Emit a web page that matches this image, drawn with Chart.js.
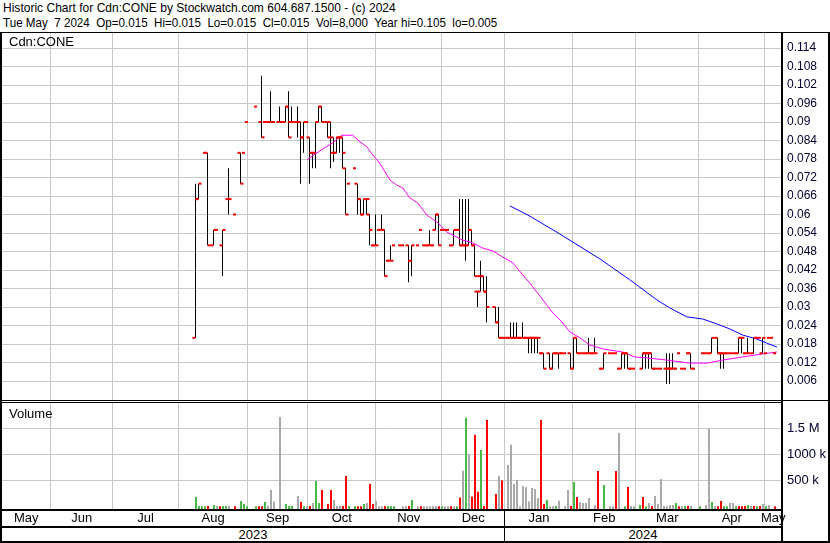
<!DOCTYPE html>
<html>
<head>
<meta charset="utf-8">
<title>Historic Chart for Cdn:CONE</title>
<script src="https://cdn.jsdelivr.net/npm/chart.js@4.4.1/dist/chart.umd.min.js"></script>
<style>
  body { margin: 0; background: #fff; font-family: "Liberation Sans", Arial, sans-serif; color: #000; }
  #page { position: relative; width: 830px; height: 543px; overflow: hidden; }
  .head { position: absolute; left: 3px; font-size: 13px; line-height: 15px; white-space: pre; transform-origin: 0 0; }
  .txt { position: absolute; font-size: 13px; line-height: 15px; white-space: pre; z-index: 3; }
  .rule { position: absolute; background: #000; z-index: 5; }
  canvas { position: absolute; left: 0; }
</style>
</head>
<body>
<div id="page">
  <div class="head" style="top:0;transform:scaleX(0.926)">Historic Chart for Cdn:CONE by Stockwatch.com 604.687.1500 - (c) 2024</div>
  <div class="head" style="top:15px;transform:scaleX(0.894)">Tue May  7 2024  Op=0.015  Hi=0.015  Lo=0.015  Cl=0.015  Vol=8,000  Year hi=0.105  lo=0.005</div>

  <canvas id="price" width="830" height="367" style="top:33px"></canvas>
  <canvas id="volume" width="830" height="123" style="top:403px"></canvas>

  <div class="txt" style="left:9px;top:34px">Cdn:CONE</div>
  <div class="txt" style="left:9px;top:406px">Volume</div>
  <div class="txt" style="left:2px;width:502px;top:527px;text-align:center">2023</div>
  <div class="txt" style="left:505px;width:276px;top:527px;text-align:center">2024</div>

  <div class="rule" style="left:0;top:32px;width:830px;height:1px"></div>
  <div class="rule" style="left:0;top:32px;width:2px;height:511px"></div>
  <div class="rule" style="left:781px;top:32px;width:2px;height:511px"></div>
  <div class="rule" style="left:828px;top:32px;width:2px;height:511px"></div>
  <div class="rule" style="left:0;top:400px;width:830px;height:1px"></div>
  <div class="rule" style="left:0;top:402px;width:781px;height:1px"></div>
  <div class="rule" style="left:0;top:509px;width:781px;height:2px"></div>
  <div class="rule" style="left:0;top:526px;width:781px;height:2px"></div>
  <div class="rule" style="left:0;top:541px;width:830px;height:2px"></div>
  <div class="rule" style="left:504px;top:509px;width:1px;height:33px"></div>
</div>

<script>
// x values are trading-day slots (one slot per day on the chart)
const monthStarts = [16.6, 37.2, 59.2, 82.2, 102.2, 124.9, 146.9, 167.9, 190.6, 211.6, 232.6, 254.6];
const monthCenters = [8.4, 26.9, 48.2, 70.7, 92.2, 113.6, 135.9, 157.4, 179.3, 201.1, 222.1, 243.6, 257.4];
const monthLabels = ['May', 'Jun', 'Jul', 'Aug', 'Sep', 'Oct', 'Nov', 'Dec', 'Jan', 'Feb', 'Mar', 'Apr', 'May'];

const priceTicks = [0.006, 0.012, 0.018, 0.024, 0.03, 0.036, 0.042, 0.048, 0.054, 0.06,
                    0.066, 0.072, 0.078, 0.084, 0.09, 0.096, 0.102, 0.108, 0.114];
const priceTickLabels = ['0.006', '0.012', '0.018', '0.024', '0.03', '0.036', '0.042', '0.048', '0.054', '0.06',
                         '0.066', '0.072', '0.078', '0.084', '0.09', '0.096', '0.102', '0.108', '0.114'];
const volTicks = [500000, 1000000, 1500000];
const volTickLabels = ['500 k', '1000 k', '1.5 M'];

// day, open, high, low, close
const ohlc = [
  [65, .02, .07, .02, .065], [66, .065, .07, .065, .07], [68, .08, .08, .08, .08], [69, .08, .08, .05, .05],
  [71, .05, .055, .05, .055], [72, .055, .055, .055, .055], [74, .05, .055, .04, .055], [76, .065, .075, .06, .065],
  [78, .06, .06, .06, .06], [80, .08, .08, .07, .07], [81, .08, .08, .08, .08], [82, .09, .09, .09, .09],
  [85, .095, .095, .095, .095], [87, .09, .105, .085, .085], [88, .09, .09, .09, .09], [89, .09, .09, .09, .09],
  [90, .09, .1, .09, .09], [91, .09, .09, .09, .09], [93, .09, .095, .09, .09], [95, .09, .095, .09, .095],
  [96, .095, .1, .085, .085], [97, .09, .095, .09, .09], [99, .09, .095, .085, .09], [100, .09, .09, .07, .085],
  [101, .085, .09, .08, .09], [102, .09, .09, .09, .09], [103, .085, .085, .07, .08], [104, .08, .08, .075, .08],
  [105, .08, .09, .075, .09], [106, .09, .095, .09, .095], [107, .095, .095, .09, .09], [109, .09, .09, .085, .085],
  [110, .09, .09, .075, .08], [111, .085, .085, .077, .08], [112, .08, .085, .08, .085], [113, .085, .085, .08, .085],
  [114, .085, .085, .075, .08], [115, .075, .075, .06, .06], [116, .07, .07, .07, .07], [118, .075, .075, .075, .075],
  [119, .07, .07, .06, .065], [120, .065, .065, .06, .06], [121, .06, .065, .06, .065], [122, .065, .065, .06, .065],
  [123, .06, .06, .05, .055], [124, .05, .05, .05, .05], [125, .05, .06, .05, .05], [126, .055, .055, .055, .055],
  [127, .055, .06, .055, .055], [128, .055, .055, .04, .04], [129, .045, .045, .045, .045], [130, .045, .05, .045, .045],
  [131, .05, .05, .05, .05], [133, .05, .05, .05, .05], [134, .05, .05, .05, .05], [136, .05, .05, .038, .045],
  [137, .045, .05, .04, .05], [139, .05, .05, .05, .05], [140, .055, .055, .055, .055], [141, .05, .05, .05, .05],
  [142, .05, .05, .05, .05], [143, .05, .055, .05, .05], [144, .05, .05, .05, .05], [145, .055, .06, .055, .06],
  [146, .06, .06, .05, .05], [147, .055, .055, .055, .055], [148, .055, .055, .055, .055], [149, .055, .055, .055, .055],
  [150, .05, .05, .05, .05], [151, .05, .055, .05, .055], [152, .055, .055, .055, .055], [153, .055, .065, .05, .05],
  [154, .05, .065, .05, .05], [155, .05, .065, .045, .05], [156, .05, .065, .05, .055], [157, .055, .055, .05, .05],
  [158, .05, .05, .04, .04], [159, .035, .035, .03, .035], [160, .04, .045, .035, .04], [161, .04, .04, .035, .035],
  [162, .035, .04, .025, .03], [165, .03, .03, .025, .025], [166, .025, .03, .02, .02], [167, .02, .02, .02, .02],
  [168, .02, .02, .02, .02], [169, .02, .02, .02, .02], [170, .02, .025, .02, .02], [171, .02, .025, .02, .02],
  [172, .02, .025, .02, .02], [173, .02, .02, .02, .02], [174, .02, .025, .02, .02], [175, .02, .02, .02, .02],
  [176, .02, .02, .015, .02], [177, .02, .02, .015, .02], [178, .02, .02, .015, .02], [179, .02, .02, .015, .02],
  [180, .015, .015, .015, .015], [181, .015, .015, .01, .01], [183, .015, .015, .01, .01], [184, .01, .015, .01, .015],
  [185, .015, .015, .015, .015], [186, .015, .015, .01, .015], [187, .015, .015, .015, .015], [188, .015, .015, .015, .015],
  [190, .015, .015, .01, .01], [191, .01, .02, .01, .02], [192, .02, .02, .015, .015], [193, .015, .015, .015, .015],
  [194, .015, .015, .015, .015], [195, .015, .015, .015, .015], [196, .015, .02, .015, .015], [197, .015, .015, .015, .015],
  [198, .015, .02, .015, .015], [200, .01, .01, .01, .01], [201, .01, .015, .01, .015], [203, .015, .015, .015, .015],
  [204, .015, .015, .015, .015], [205, .015, .015, .015, .015], [206, .01, .01, .01, .01], [207, .01, .015, .01, .015],
  [208, .015, .015, .01, .015], [209, .015, .015, .01, .01], [210, .01, .01, .01, .01], [211, .01, .01, .01, .01],
  [214, .01, .015, .01, .015], [215, .015, .015, .01, .015], [216, .015, .015, .01, .015], [217, .015, .015, .01, .01],
  [218, .01, .01, .01, .01], [219, .01, .01, .01, .01], [220, .01, .01, .01, .01], [222, .01, .015, .005, .01],
  [223, .01, .015, .005, .01], [224, .01, .015, .01, .01], [225, .01, .01, .01, .01], [226, .015, .015, .015, .015],
  [227, .01, .01, .01, .01], [228, .01, .01, .01, .01], [229, .015, .015, .015, .015], [230, .015, .015, .01, .01],
  [231, .01, .01, .01, .01], [234, .015, .015, .015, .015], [235, .015, .015, .015, .015], [236, .015, .015, .015, .015],
  [237, .015, .02, .015, .02], [239, .02, .02, .015, .015], [240, .015, .015, .01, .015], [241, .015, .015, .01, .015],
  [242, .015, .015, .015, .015], [243, .015, .015, .015, .015], [244, .015, .015, .015, .015], [245, .015, .015, .015, .015],
  [246, .015, .02, .015, .02], [247, .02, .02, .015, .02], [248, .015, .015, .015, .015], [249, .015, .02, .015, .015],
  [251, .015, .02, .015, .02], [252, .02, .02, .02, .02], [253, .02, .02, .02, .02], [254, .015, .02, .015, .02],
  [255, .015, .015, .015, .015], [256, .02, .02, .02, .02], [257, .02, .02, .02, .02], [258, .015, .015, .015, .015]
];

// moving averages
const maShortDay = [102.2, 104.1, 107.4, 110.8, 113.1, 113.8, 117.4, 119.8, 122.1, 124.1, 126.4, 129.8, 132, 134.1,
  136.4, 139.1, 142.1, 145.4, 148.8, 154.1, 157.4, 160.8, 164.1, 167.4, 170.8, 174.1, 176.4, 180.8, 184.1, 187.1,
  189.8, 193.1, 196.4, 200.8, 207.4, 211.4, 215.4, 222.1, 229.8, 235.4, 240.8, 247.4, 254.1, 258.8];
const maShortPrice = [0.0777, 0.0791, 0.0812, 0.0833, 0.0852, 0.0857, 0.0857, 0.0836, 0.082, 0.0793, 0.0767, 0.0712,
  0.0696, 0.0686, 0.0654, 0.0637, 0.0598, 0.0576, 0.0543, 0.0517, 0.0508, 0.0491, 0.0482, 0.0462, 0.0443, 0.0404,
  0.0378, 0.0323, 0.0281, 0.0252, 0.0219, 0.02, 0.0177, 0.0164, 0.0154, 0.0138, 0.0135, 0.0128, 0.0118, 0.0118,
  0.0128, 0.0138, 0.0148, 0.0154];
const maLongDay = [169.8, 176.4, 186.4, 199.8, 209.8, 218.8, 223.1, 228.8, 234.1, 238.8, 243.1, 247.4, 252.1, 255.4, 258.8];
const maLongPrice = [0.0628, 0.0595, 0.0537, 0.0456, 0.0388, 0.0323, 0.0297, 0.0268, 0.0261, 0.0245, 0.0229, 0.0209,
  0.0196, 0.0183, 0.017];

// volume: day, shares, g = up, r = down, n = unchanged
const volDay = [65, 66, 67, 68, 69, 71, 72, 73, 74, 75, 76, 78, 80, 81, 82, 85, 86, 87, 88, 89, 90, 91, 93, 95, 96, 97,
  99, 100, 101, 102, 103, 104, 105, 106, 107, 109, 110, 111, 112, 113, 114, 115, 116, 118, 119, 120, 121, 122, 123,
  124, 125, 126, 127, 128, 129, 130, 131, 134, 135, 136, 137, 139, 140, 141, 142, 143, 144, 145, 146, 147, 148, 149,
  150, 151, 152, 153, 154, 155, 156, 157, 158, 159, 160, 161, 162, 165, 166, 167, 169, 170, 171, 172, 173, 174, 175,
  176, 177, 178, 179, 180, 181, 182, 183, 184, 185, 186, 188, 189, 190, 191, 192, 193, 194, 195, 196, 198, 199, 201,
  203, 204, 205, 206, 208, 209, 210, 211, 213, 214, 215, 216, 217, 218, 219, 220, 221, 222, 223, 224, 225, 226, 227,
  228, 229, 230, 233, 235, 236, 237, 238, 239, 240, 241, 242, 243, 244, 245, 246, 247, 248, 249, 250, 251, 252, 253,
  254, 255, 256, 258];
const volShares = [179000, 5000, 3000, 3000, 6000, 25000, 6000, 3000, 5000, 5000, 5000, 3000, 100000, 45000, 2000,
  2000, 2000, 2000, 83000, 6000, 314000, 90000, 1718000, 45000, 5000, 5000, 200000, 83000, 6000, 3000, 6000, 64000,
  487000, 64000, 314000, 45000, 314000, 122000, 5000, 5000, 6000, 583000, 5000, 2000, 2000, 2000, 45000, 64000,
  430000, 45000, 100000, 2000, 2000, 6000, 2000, 2000, 2000, 2000, 2000, 6000, 122000, 2000, 3000, 3000, 3000, 3000,
  3000, 3000, 3000, 3000, 3000, 3000, 3000, 3000, 3000, 167000, 686000, 1705000, 994000, 186000, 1378000, 282000,
  1083000, 6000, 1660000, 237000, 583000, 494000, 795000, 1186000, 430000, 506000, 2000, 391000, 365000, 90000,
  353000, 333000, 160000, 1660000, 45000, 122000, 2000, 3000, 5000, 109000, 2000, 314000, 5000, 468000, 179000,
  83000, 64000, 64000, 160000, 25000, 680000, 410000, 2000, 2000, 680000, 1410000, 2000, 372000, 5000, 2000, 25000,
  179000, 2000, 64000, 6000, 200000, 45000, 526000, 5000, 2000, 25000, 25000, 64000, 2000, 2000, 5000, 6000, 5000,
  2000, 25000, 1487000, 83000, 2000, 2000, 100000, 2000, 2000, 64000, 64000, 2000, 6000, 2000, 5000, 25000, 5000,
  5000, 2000, 6000, 45000, 2000, 25000, 2000];
const volDir = ['g', 'g', 'g', 'g', 'r', 'g', 'n', 'r', 'g', 'g', 'n', 'r', 'g', 'g', 'g', 'g', 'r', 'r', 'g', 'n',
  'n', 'n', 'n', 'g', 'g', 'g', 'n', 'r', 'g', 'n', 'r', 'n', 'g', 'g', 'r', 'r', 'r', 'n', 'n', 'n', 'r', 'r', 'g',
  'g', 'r', 'r', 'g', 'n', 'r', 'r', 'n', 'n', 'n', 'r', 'g', 'g', 'g', 'n', 'n', 'r', 'g', 'n', 'r', 'n', 'n', 'n',
  'n', 'n', 'r', 'g', 'n', 'n', 'r', 'n', 'g', 'r', 'n', 'g', 'n', 'r', 'r', 'r', 'g', 'r', 'r', 'r', 'n', 'r', 'n',
  'n', 'n', 'n', 'n', 'n', 'n', 'n', 'n', 'n', 'n', 'r', 'r', 'g', 'n', 'n', 'g', 'n', 'n', 'n', 'r', 'g', 'r', 'n',
  'n', 'n', 'n', 'n', 'r', 'g', 'n', 'n', 'r', 'n', 'g', 'r', 'n', 'n', 'g', 'r', 'g', 'n', 'r', 'n', 'n', 'n', 'n',
  'n', 'n', 'n', 'g', 'r', 'n', 'g', 'r', 'n', 'g', 'n', 'n', 'g', 'n', 'r', 'r', 'g', 'g', 'n', 'n', 'g', 'r', 'r',
  'r', 'g', 'n', 'r', 'g', 'r', 'n', 'g', 'n', 'r'];

// scale ranges (one slot = 3px; price panel 367px, volume panel 106px)
const SLOTS = 779 / 3;
const PRICE_MIN = -0.00016, PRICE_MAX = 0.118865;
const VOL_MIN = -51900, VOL_MAX = 1986500;
const GRID = '#c8c8c8';
const VOL_COLORS = { g: '#46b946', r: '#ff0000', n: '#a9a9a9' };

Chart.defaults.font.family = '"Liberation Sans", Arial, sans-serif';
Chart.defaults.font.size = 13;
Chart.defaults.color = '#000';
Chart.defaults.animation = false;

// price marks
const swings = ohlc.filter(b => b[2] > b[3]);
const flats = ohlc.filter(b => b[2] === b[3]);
const rangeBars = swings.map(b => ({ x: b[0], y: [b[3], b[2]] }));
const openPts = swings.map(b => ({ x: b[0] - 0.5, y: b[1] }));
const closePts = swings.map(b => ({ x: b[0] + 0.5, y: b[4] }));
const flatPts = flats.map(b => ({ x: b[0], y: b[4] }));
const maShort = maShortDay.map((d, i) => ({ x: d, y: maShortPrice[i] }));
const maLong = maLongDay.map((d, i) => ({ x: d, y: maLongPrice[i] }));

function tickSet(style) {
  return Object.assign({
    type: 'line', showLine: false, pointStyle: 'line', pointRadius: 1.5,
    pointBorderWidth: 2, pointBorderColor: '#ff0000', pointBackgroundColor: '#ff0000',
    pointHoverRadius: 0, order: 0
  }, style);
}

// keep the plot area flush with the canvas edges (no label overhang padding)
function noPad(s) {
  s.paddingTop = 0; s.paddingBottom = 0; s.paddingLeft = 0; s.paddingRight = 0;
}

const noUi = { legend: { display: false }, tooltip: { enabled: false } };

new Chart(document.getElementById('price'), {
  type: 'bar',
  data: {
    datasets: [
      { type: 'line', data: maShort, borderColor: '#ff00ff', borderWidth: 1, pointRadius: 0, tension: 0, order: 1 },
      { type: 'line', data: maLong, borderColor: '#0000ff', borderWidth: 1, pointRadius: 0, tension: 0, order: 1 },
      tickSet({ data: openPts }),
      tickSet({ data: closePts }),
      tickSet({ data: flatPts }),
      { type: 'bar', data: rangeBars, backgroundColor: '#000', barThickness: 1, inflateAmount: 0, order: 2 }
    ]
  },
  options: {
    responsive: false,
    events: [],
    layout: { padding: { left: 2 }, autoPadding: false },
    plugins: noUi,
    scales: {
      x: {
        type: 'linear', min: 0.5, max: 0.5 + SLOTS, offset: false,
        afterBuildTicks: s => { s.ticks = monthStarts.map(v => ({ value: v })); },
        ticks: { display: false, autoSkip: false },
        grid: { color: GRID, drawTicks: false, offset: false },
        border: { display: false },
        afterFit: s => { s.height = 0; noPad(s); }
      },
      y: {
        position: 'right', min: PRICE_MIN, max: PRICE_MAX,
        afterBuildTicks: s => { s.ticks = priceTicks.map(v => ({ value: v })); },
        ticks: { autoSkip: false, padding: 6, color: '#000033', font: { size: 12 },
                 callback: (v, i) => priceTickLabels[i] },
        grid: { color: GRID, drawTicks: false },
        border: { display: false },
        afterFit: s => { s.width = 49; noPad(s); }
      }
    }
  }
});

// volume x axis carries both the month grid lines and the month names
const volXTicks = monthStarts.map(v => ({ value: v, name: '' }))
  .concat(monthCenters.map((v, i) => ({ value: v, name: monthLabels[i] })))
  .sort((a, b) => a.value - b.value);

new Chart(document.getElementById('volume'), {
  type: 'bar',
  data: {
    datasets: [{
      data: volDay.map((d, i) => ({ x: d, y: volShares[i] })),
      backgroundColor: volDir.map(k => VOL_COLORS[k]),
      barThickness: 2, inflateAmount: 0, base: VOL_MIN
    }]
  },
  options: {
    responsive: false,
    events: [],
    layout: { padding: { left: 2 }, autoPadding: false },
    plugins: noUi,
    scales: {
      x: {
        type: 'linear', min: 1 / 3, max: 1 / 3 + SLOTS, offset: false,
        afterBuildTicks: s => { s.ticks = volXTicks.map(t => ({ value: t.value, name: t.name })); },
        ticks: { autoSkip: false, maxRotation: 0, padding: 2, color: '#000',
                 callback: (v, i, ticks) => ticks[i].name },
        grid: { color: c => (c.tick && c.tick.name) ? 'rgba(0,0,0,0)' : GRID, drawTicks: false, offset: false },
        border: { display: false },
        afterFit: s => { s.height = 17; noPad(s); }
      },
      y: {
        position: 'right', min: VOL_MIN, max: VOL_MAX,
        afterBuildTicks: s => { s.ticks = volTicks.map(v => ({ value: v })); },
        ticks: { autoSkip: false, padding: 6, color: '#000033',
                 callback: (v, i) => volTickLabels[i] },
        grid: { color: GRID, drawTicks: false },
        border: { display: false },
        afterFit: s => { s.width = 49; noPad(s); }
      }
    }
  }
});
</script>
</body>
</html>
